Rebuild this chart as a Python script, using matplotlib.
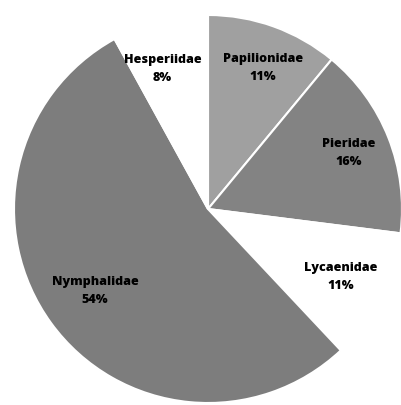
import matplotlib
matplotlib.use("Agg")
import matplotlib.pyplot as plt
import numpy as np

families = ["Papilionidae", "Pieridae", "Lycaenidae", "Nymphalidae", "Hesperiidae"]
percent = [11, 16, 11, 54, 8]
colors = ["#a0a0a0", "#838383", "#ffffff", "#7d7d7d", "#ffffff"]
label_dist = [0.78, 0.78, 0.77, 0.72, 0.76]
label_rot = [-1.5, 0, 0, 0, 3.5]

fig = plt.figure(figsize=(4.02, 4.05), dpi=100)
R = 194
cx, cy = 208, 405 - 209
ax = fig.add_axes([(cx - R) / 402, (cy - R) / 405, 2 * R / 402, 2 * R / 405])
wedges, _ = ax.pie(percent, colors=colors, startangle=90, counterclock=False,
                   wedgeprops=dict(edgecolor="white", linewidth=1.5))
for w, name, p, d, r in zip(wedges, families, percent, label_dist, label_rot):
    ang = np.deg2rad((w.theta1 + w.theta2) / 2 + r)
    ax.text(d * np.cos(ang), d * np.sin(ang), f"{name}\n{p}%", ha="center", va="center",
            fontsize=9, fontweight="heavy", family="Open Sans", linespacing=1.7,
            color="black")
ax.set_xlim(-1, 1)
ax.set_ylim(-1, 1)
ax.set_aspect("equal")
ax.axis("off")
fig.savefig("out.png", dpi=100)
